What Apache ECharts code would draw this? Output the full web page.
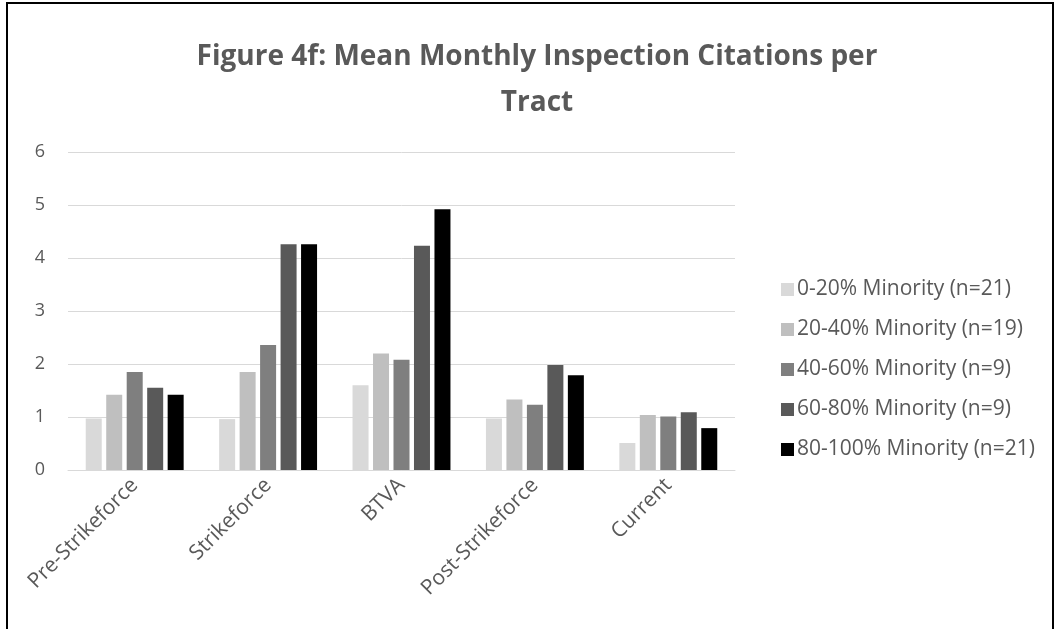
<!DOCTYPE html>
<html>
<head>
<meta charset="utf-8">
<script src="https://cdn.jsdelivr.net/npm/echarts@6/dist/echarts.min.js"></script>
<style>
  html, body { margin: 0; padding: 0; background: #fff; }
  #chart { width: 1054px; height: 629px; }
  /* frame round the chart, like the Excel chart area */
  #frame {
    position: absolute; left: 6px; top: 2px; width: 1044px; height: 640px;
    border: 2px solid #000; border-bottom: none; pointer-events: none;
  }
</style>
</head>
<body>
<div id="chart"></div>
<div id="frame"></div>
<script>
// categories (periods)
const periods = ['Pre-Strikeforce', 'Strikeforce', 'BTVA', 'Post-Strikeforce', 'Current']

// one list per minority band
const band0to20 = [0.97, 0.96, 1.60, 0.97, 0.51]
const band20to40 = [1.42, 1.85, 2.20, 1.33, 1.04]
const band40to60 = [1.85, 2.36, 2.08, 1.23, 1.01]
const band60to80 = [1.55, 4.26, 4.23, 1.98, 1.09]
const band80to100 = [1.42, 4.26, 4.92, 1.79, 0.79]

const seriesNames = [
  '0-20% Minority (n=21)',
  '20-40% Minority (n=19)',
  '40-60% Minority (n=9)',
  '60-80% Minority (n=9)',
  '80-100% Minority (n=21)'
]
const seriesData = [band0to20, band20to40, band40to60, band60to80, band80to100]
const colors = ['#d9d9d9', '#bfbfbf', '#7f7f7f', '#595959', '#000000']

const yTicks = [0, 1, 2, 3, 4, 5, 6]

const font = '"Open Sans", "Noto Sans", sans-serif'
const chart = echarts.init(document.getElementById('chart'), null, { renderer: 'canvas' })

const option = {
  backgroundColor: '#ffffff',
  animation: false,
  title: {
    text: 'Figure 4f: Mean Monthly Inspection Citations per\nTract',
    left: 537,
    textAlign: 'center',
    top: 34,
    padding: 0,
    textStyle: {
      fontFamily: font,
      fontSize: 28,
      fontWeight: 'bold',
      color: '#595959',
      lineHeight: 46
    }
  },
  legend: {
    orient: 'vertical',
    left: 776,
    top: 274,
    itemWidth: 13,
    itemHeight: 13,
    itemGap: 19,
    icon: 'rect',
    textStyle: { fontFamily: font, fontSize: 21, color: '#595959', padding: [0, 0, 0, -2] },
    data: seriesNames
  },
  grid: { left: 68, right: 319, top: 152, bottom: 159, containLabel: false },
  xAxis: {
    type: 'category',
    data: periods,
    axisLine: { lineStyle: { color: '#d9d9d9', width: 1 } },
    axisTick: { show: false },
    axisLabel: {
      rotate: 45,
      margin: 12,
      fontFamily: font,
      fontSize: 21,
      color: '#595959',
      interval: 0
    }
  },
  yAxis: {
    type: 'value',
    min: yTicks[0],
    max: yTicks[yTicks.length - 1],
    interval: 1,
    axisLine: { show: false },
    axisTick: { show: false },
    splitLine: { lineStyle: { color: '#d9d9d9', width: 1 } },
    axisLabel: { margin: 23, fontFamily: font, fontSize: 18, color: '#595959' }
  },
  series: seriesNames.map((name, i) => ({
    name,
    type: 'bar',
    data: seriesData[i],
    barWidth: 16,
    barGap: '28%',
    itemStyle: { color: colors[i] }
  }))
}

chart.setOption(option)
</script>
</body>
</html>
